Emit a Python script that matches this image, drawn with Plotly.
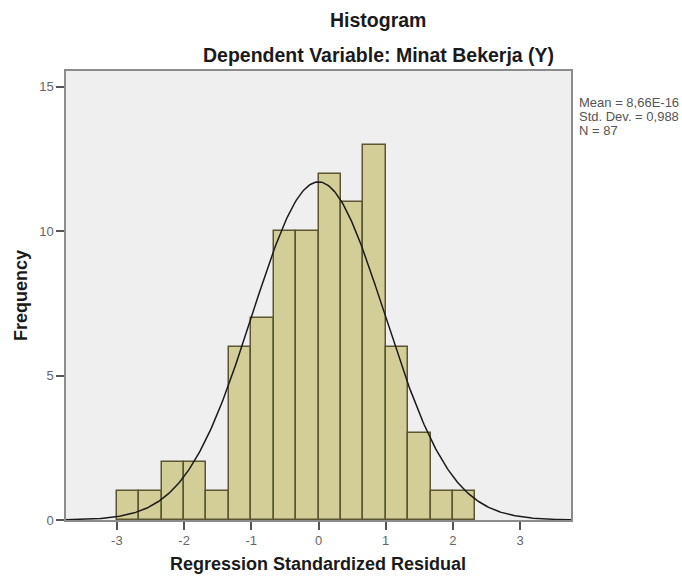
import numpy as np
import plotly.graph_objects as go

# ---- data ----
bin_start = -3.0
bin_width = 1.0 / 3.0
counts = [1, 1, 2, 2, 1, 6, 7, 10, 10, 12, 11, 13, 6, 3, 1, 1]
x_ticks = [-3, -2, -1, 0, 1, 2, 3]
y_ticks = [0, 5, 10, 15]
stat_mean = 8.66e-16
stat_sd = 0.988
stat_n = 87
stats_lines = ["Mean = 8,66E-16", "Std. Dev. = 0,988", "N = 87"]
title_text = "Histogram"
subtitle_text = "Dependent Variable: Minat Bekerja (Y)"
x_title = "Regression Standardized Residual"
y_title = "Frequency"

centers = [bin_start + bin_width * (i + 0.5) for i in range(len(counts))]

x_range = [-3.757, 3.757]
y_range = [0, 15.55]

# theoretical normal curve from the stated statistics
xc = np.linspace(x_range[0], x_range[1], 400)
yc = stat_n * bin_width * np.exp(-0.5 * ((xc - stat_mean) / stat_sd) ** 2) / (stat_sd * np.sqrt(2 * np.pi))

FONT = "Liberation Sans, Arial, sans-serif"

fig = go.Figure()
fig.add_trace(go.Bar(
    x=centers, y=counts, width=bin_width,
    marker=dict(color="#d3ce98", line=dict(color="#5b5631", width=1.5)),
    hoverinfo="x+y", showlegend=False,
))
fig.add_trace(go.Scatter(
    x=xc, y=yc, mode="lines",
    line=dict(color="#1a1a1a", width=1.5), showlegend=False, hoverinfo="skip",
))

L, R, T, B = 66, 111, 71, 56
plot_h = 576 - T - B
plot_w = 682 - L - R

def py(ypix):
    return (576 - B - ypix) / plot_h

def px(xpix):
    return (xpix - L) / plot_w

annotations = [
    dict(text="<b>" + title_text + "</b>", x=px(378), y=py(20),
         xref="paper", yref="paper", xanchor="center", yanchor="middle", showarrow=False,
         font=dict(family=FONT, size=19.5, color="#1a1a1a")),
    dict(text="<b>" + subtitle_text + "</b>", x=px(378), y=py(55),
         xref="paper", yref="paper", xanchor="center", yanchor="middle", showarrow=False,
         font=dict(family=FONT, size=19.5, color="#1a1a1a")),
    dict(text="<b>" + x_title + "</b>", x=px(318), y=py(564),
         xref="paper", yref="paper", xanchor="center", yanchor="middle", showarrow=False,
         font=dict(family=FONT, size=18, color="#1a1a1a")),
    dict(text="<b>" + y_title + "</b>", x=px(21), y=py(296), textangle=-90,
         xref="paper", yref="paper", xanchor="center", yanchor="middle", showarrow=False,
         font=dict(family=FONT, size=18, color="#1a1a1a")),
]
for i, s in enumerate(stats_lines):
    annotations.append(dict(
        text=s, x=px(577), y=py(103 + 13.5 * i),
        xref="paper", yref="paper", xanchor="left", yanchor="middle", showarrow=False,
        font=dict(family=FONT, size=13, color="#555555")))

fig.update_layout(
    width=682, height=576,
    margin=dict(l=L, r=R, t=T, b=B, pad=0),
    paper_bgcolor="white", plot_bgcolor="#efefef",
    bargap=0,
    annotations=annotations,
    font=dict(family=FONT),
)
fig.update_xaxes(
    range=x_range, tickvals=x_ticks, ticktext=[str(v) for v in x_ticks],
    showgrid=False, zeroline=False,
    showline=True, linecolor="#8c8c8c", linewidth=1.5, mirror=True,
    ticks="outside", ticklen=8, tickcolor="#555555", tickwidth=1.5,
    tickfont=dict(family=FONT, size=13, color="#666666"),
)
fig.update_yaxes(
    range=y_range, tickvals=y_ticks, ticktext=[str(v) for v in y_ticks],
    showgrid=False, zeroline=False,
    showline=True, linecolor="#8c8c8c", linewidth=1.5, mirror=True,
    ticks="outside", ticklen=8, tickcolor="#555555", tickwidth=1.5,
    tickfont=dict(family=FONT, size=13, color="#666666"),
)

fig.write_html("out.html",
               config={"displayModeBar": False},
               post_script="document.body.style.margin='0';document.body.style.overflow='hidden';")
